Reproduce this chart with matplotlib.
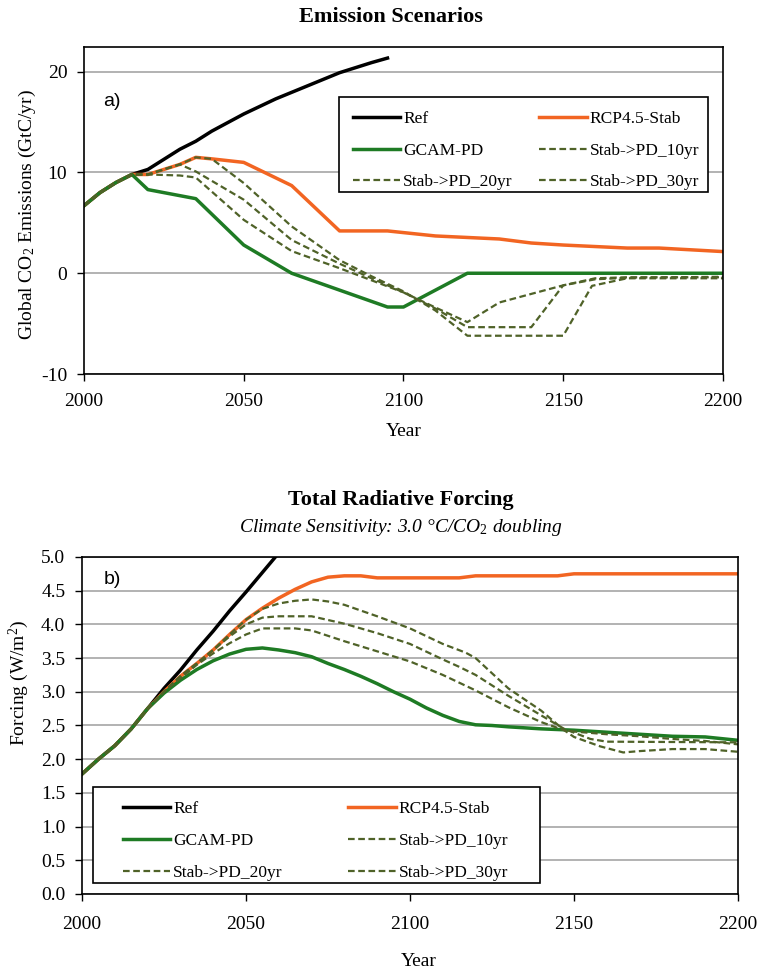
import matplotlib
matplotlib.use("Agg")
import matplotlib.pyplot as plt
from matplotlib.patches import Rectangle

matplotlib.rcParams.update({
    'font.family': 'Liberation Serif',
    'font.size': 14,
    'axes.unicode_minus': False,
    'mathtext.fontset': 'custom',
    'mathtext.rm': 'Liberation Serif',
    'mathtext.it': 'Liberation Serif:italic',
})

# ---- panel a) global CO2 emissions (GtC/yr) ----
ref_em_yr = [2000, 2005, 2010, 2015, 2020, 2025, 2030, 2035, 2040, 2050, 2060, 2070, 2080, 2090, 2095]
ref_em = [6.7, 8.0, 9.0, 9.8, 10.3, 11.3, 12.3, 13.1, 14.1, 15.8, 17.3, 18.6, 19.9, 20.9, 21.35]

rcp_em_yr = [2000, 2005, 2010, 2015, 2020, 2030, 2035, 2040, 2050, 2065, 2080, 2095, 2110, 2130,
             2140, 2150, 2170, 2180, 2200]
rcp_em = [6.7, 8.0, 9.0, 9.8, 9.8, 10.8, 11.5, 11.35, 11.0, 8.7, 4.2, 4.2, 3.7, 3.4,
          3.0, 2.8, 2.5, 2.5, 2.15]

gcam_em_yr = [2000, 2005, 2010, 2015, 2020, 2035, 2050, 2065, 2095, 2100, 2120, 2200]
gcam_em = [6.7, 8.0, 9.0, 9.8, 8.3, 7.4, 2.8, 0.0, -3.35, -3.35, 0.0, 0.0]

pd10_em_yr = [2000, 2005, 2010, 2015, 2020, 2030, 2035, 2050, 2065, 2080, 2090, 2100, 2110,
              2120, 2130, 2150, 2160, 2170, 2200]
pd10_em = [6.7, 8.0, 9.0, 9.8, 9.8, 9.7, 9.5, 5.3, 2.2, 0.5, -0.7, -1.9, -3.4,
           -4.85, -2.9, -1.2, -0.6, -0.45, -0.35]

pd20_em_yr = [2000, 2005, 2010, 2015, 2020, 2030, 2035, 2050, 2065, 2080, 2090, 2100, 2110,
              2120, 2140, 2150, 2160, 2170, 2200]
pd20_em = [6.7, 8.0, 9.0, 9.8, 9.8, 10.8, 10.1, 7.3, 3.3, 0.95, -0.5, -1.9, -3.5,
           -5.35, -5.35, -1.2, -0.5, -0.4, -0.4]

pd30_em_yr = [2000, 2005, 2010, 2015, 2020, 2030, 2035, 2040, 2050, 2065, 2080, 2090, 2100,
              2110, 2120, 2150, 2159, 2170, 2200]
pd30_em = [6.7, 8.0, 9.0, 9.8, 9.8, 10.8, 11.5, 11.35, 8.95, 4.65, 1.3, -0.3, -1.8,
           -3.7, -6.2, -6.2, -1.25, -0.5, -0.5]

# ---- panel b) total radiative forcing (W/m2) ----
ref_rf_yr = [2000, 2005, 2010, 2015, 2020, 2025, 2030, 2035, 2040, 2045, 2050, 2055, 2060]
ref_rf = [1.78, 2.0, 2.2, 2.45, 2.75, 3.05, 3.32, 3.62, 3.9, 4.2, 4.48, 4.77, 5.06]

rcp_rf_yr = [2000, 2005, 2010, 2015, 2020, 2025, 2030, 2035, 2040, 2045, 2050, 2055, 2060,
             2065, 2070, 2075, 2080, 2085, 2090, 2100, 2115, 2120, 2145, 2150, 2200]
rcp_rf = [1.78, 2.0, 2.2, 2.45, 2.75, 3.0, 3.23, 3.42, 3.62, 3.85, 4.07, 4.24, 4.39,
          4.52, 4.63, 4.70, 4.72, 4.72, 4.69, 4.69, 4.69, 4.72, 4.72, 4.75, 4.75]

gcam_rf_yr = [2000, 2005, 2010, 2015, 2020, 2025, 2030, 2035, 2040, 2045, 2050, 2055, 2060,
              2065, 2070, 2075, 2080, 2085, 2090, 2095, 2100, 2105, 2110, 2115, 2120, 2125,
              2130, 2140, 2150, 2160, 2170, 2180, 2190, 2200]
gcam_rf = [1.78, 2.0, 2.2, 2.45, 2.75, 2.98, 3.17, 3.33, 3.46, 3.56, 3.63, 3.65, 3.62,
           3.58, 3.52, 3.42, 3.33, 3.23, 3.12, 3.0, 2.89, 2.76, 2.65, 2.56, 2.51, 2.5,
           2.48, 2.45, 2.43, 2.4, 2.37, 2.34, 2.33, 2.28]

pd10_rf_yr = [2000, 2005, 2010, 2015, 2020, 2025, 2030, 2035, 2040, 2045, 2050, 2055, 2065,
              2070, 2080, 2090, 2100, 2110, 2120, 2130, 2140, 2147, 2150, 2160, 2170, 2180,
              2190, 2200]
pd10_rf = [1.78, 2.0, 2.2, 2.45, 2.75, 3.0, 3.2, 3.4, 3.57, 3.72, 3.85, 3.94, 3.94,
           3.91, 3.75, 3.6, 3.45, 3.25, 3.02, 2.77, 2.55, 2.43, 2.41, 2.37, 2.34, 2.3,
           2.27, 2.22]

pd20_rf_yr = [2000, 2005, 2010, 2015, 2020, 2025, 2030, 2035, 2040, 2045, 2050, 2055, 2060,
              2070, 2080, 2090, 2100, 2110, 2115, 2120, 2130, 2140, 2147, 2155, 2160, 2200]
pd20_rf = [1.78, 2.0, 2.2, 2.45, 2.75, 3.0, 3.23, 3.42, 3.62, 3.82, 4.0, 4.1, 4.12,
           4.12, 4.01, 3.87, 3.71, 3.48, 3.37, 3.25, 2.94, 2.65, 2.45, 2.3, 2.26, 2.25]

pd30_rf_yr = [2000, 2005, 2010, 2015, 2020, 2025, 2030, 2035, 2040, 2045, 2050, 2055, 2060,
              2065, 2070, 2075, 2080, 2090, 2100, 2110, 2117, 2120, 2130, 2140, 2147, 2150,
              2158, 2165, 2170, 2180, 2190, 2200]
pd30_rf = [1.78, 2.0, 2.2, 2.45, 2.75, 3.0, 3.23, 3.42, 3.62, 3.85, 4.07, 4.23, 4.31,
           4.35, 4.37, 4.34, 4.29, 4.12, 3.94, 3.71, 3.58, 3.5, 3.05, 2.72, 2.43, 2.33,
           2.19, 2.10, 2.12, 2.15, 2.15, 2.11]

em_yticks = [-10, 0, 10, 20]
rf_yticks = [0.0, 0.5, 1.0, 1.5, 2.0, 2.5, 3.0, 3.5, 4.0, 4.5, 5.0]
xticks = [2000, 2050, 2100, 2150, 2200]

C_REF = 'black'
C_RCP = '#f26522'
C_GCAM = '#1e7b24'
C_PD = '#4f6228'
DASH = (0, (3.0, 1.6))


def draw_panel(ax, series, yticks, ylim, xpad):
    handles = {}
    for name, x, y, col, ls, lw in series:
        line, = ax.plot(x, y, color=col, linestyle=ls, lw=lw, label=name)
        handles[name] = line
    ax.set_xlim(2000, 2200)
    ax.set_ylim(*ylim)
    ax.set_xticks(xticks)
    ax.set_yticks(yticks)
    ax.yaxis.grid(True, color='#a6a6a6', lw=1.2)
    ax.set_axisbelow(True)
    for sp in ax.spines.values():
        sp.set_color('black')
        sp.set_linewidth(1.2)
    ax.tick_params(direction='out', length=5, width=1, pad=7, labelsize=14)
    ax.tick_params(axis='x', pad=xpad)
    return handles


def add_legend(ax, handles, box, anchor, colspace):
    order = ['Ref', 'GCAM-PD', 'Stab->PD_20yr', 'RCP4.5-Stab', 'Stab->PD_10yr', 'Stab->PD_30yr']
    ax.add_patch(Rectangle(box[:2], box[2], box[3], transform=ax.transAxes,
                           facecolor='white', edgecolor='black', lw=1.2, zorder=4))
    leg = ax.legend([handles[k] for k in order], order, ncol=2, loc='upper left',
                    bbox_to_anchor=anchor, frameon=False, borderpad=0, borderaxespad=0,
                    handlelength=2.75, handletextpad=0.15, columnspacing=colspace,
                    labelspacing=0.9, fontsize=12.5)
    leg.set_zorder(5)


fig = plt.figure(figsize=(7.62, 9.71), dpi=100)
ax1 = fig.add_axes([0.1102, 0.6148, 0.8386, 0.3368])
ax2 = fig.add_axes([0.1076, 0.0793, 0.8609, 0.3471])

em_series = [
    ('Ref', ref_em_yr, ref_em, C_REF, '-', 2.5),
    ('RCP4.5-Stab', rcp_em_yr, rcp_em, C_RCP, '-', 2.5),
    ('GCAM-PD', gcam_em_yr, gcam_em, C_GCAM, '-', 2.5),
    ('Stab->PD_10yr', pd10_em_yr, pd10_em, C_PD, DASH, 1.6),
    ('Stab->PD_20yr', pd20_em_yr, pd20_em, C_PD, DASH, 1.6),
    ('Stab->PD_30yr', pd30_em_yr, pd30_em, C_PD, DASH, 1.6),
]
rf_series = [
    ('Ref', ref_rf_yr, ref_rf, C_REF, '-', 2.5),
    ('RCP4.5-Stab', rcp_rf_yr, rcp_rf, C_RCP, '-', 2.5),
    ('GCAM-PD', gcam_rf_yr, gcam_rf, C_GCAM, '-', 2.5),
    ('Stab->PD_10yr', pd10_rf_yr, pd10_rf, C_PD, DASH, 1.6),
    ('Stab->PD_20yr', pd20_rf_yr, pd20_rf, C_PD, DASH, 1.6),
    ('Stab->PD_30yr', pd30_rf_yr, pd30_rf, C_PD, DASH, 1.6),
]

h1 = draw_panel(ax1, em_series, em_yticks, (-10, 22.45), 9)
h2 = draw_panel(ax2, rf_series, rf_yticks, (0, 5), 10.5)
ax2.set_yticklabels(['%.1f' % v for v in rf_yticks])

add_legend(ax1, h1, (0.399, 0.557, 0.578, 0.29), (0.4205, 0.805), 1.55)
add_legend(ax2, h2, (0.017, 0.033, 0.681, 0.285), (0.062, 0.275), 3.8)

ax1.text(0.044, 0.832, 'a)', transform=ax1.transAxes, family='Liberation Sans',
         fontsize=14, ha='center', va='center')
ax2.text(0.047, 0.932, 'b)', transform=ax2.transAxes, family='Liberation Sans',
         fontsize=14, ha='center', va='center')

ax1.set_xlabel('Year', fontsize=14, va='center')
ax1.xaxis.set_label_coords(0.5, -0.177)
ax2.set_xlabel('Year', fontsize=14, va='center')
ax2.xaxis.set_label_coords(0.514, -0.199)
ax1.set_ylabel('Global CO$_2$ Emissions (GtC/yr)', fontsize=14, va='center')
ax1.yaxis.set_label_coords(-0.089, 0.486)
ax2.set_ylabel('Forcing (W/m$^2$)', fontsize=14, va='center')
ax2.yaxis.set_label_coords(-0.096, 0.626)

fig.text(0.513, 0.982, 'Emission Scenarios', fontsize=16, weight='bold',
         ha='center', va='center')
fig.text(0.526, 0.485, 'Total Radiative Forcing', fontsize=16, weight='bold',
         ha='center', va='center')
fig.text(0.526, 0.457, r'Climate Sensitivity: 3.0 °C/CO$_\mathit{2}$ doubling', fontsize=14,
         style='italic', ha='center', va='center')

plt.savefig('out.png', dpi=100)
